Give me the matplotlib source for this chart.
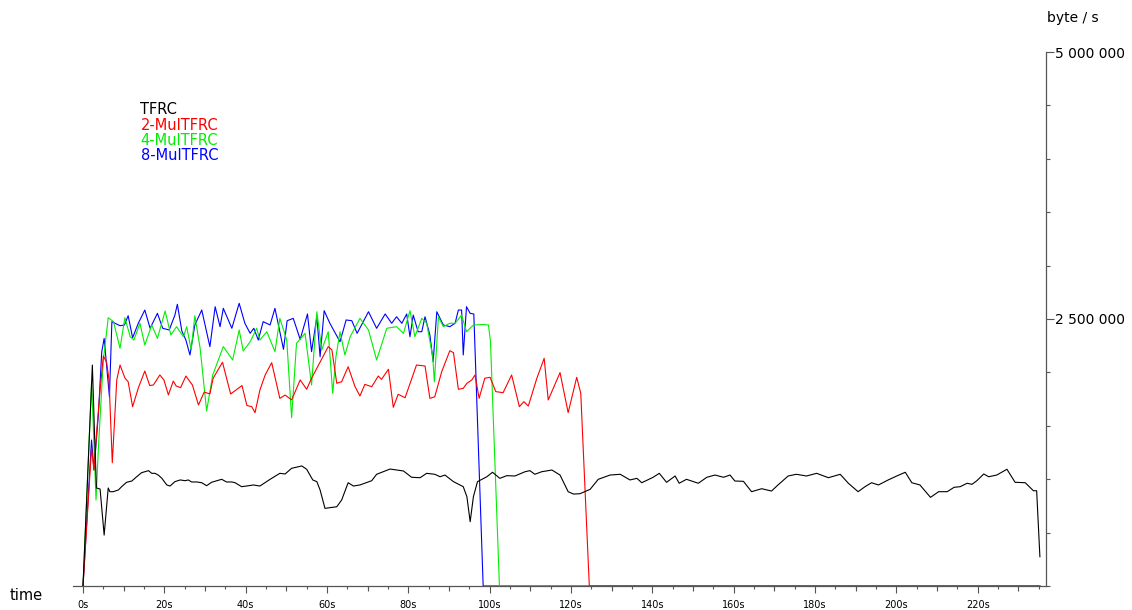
import matplotlib
matplotlib.use("Agg")
import matplotlib.pyplot as plt
from matplotlib.ticker import FixedLocator, FuncFormatter

# ======================================
# THROUGHPUT TRACES (time in s, rate in kbyte/s)
# ======================================

tfrc_t = [0, 2.3, 2.8, 3.3, 4.2, 5.2, 6.2, 6.6, 7.4, 8.7, 9.5, 10.7, 12.0, 13.2, 14.4,
          16.1, 16.9, 17.7, 18.5, 19.4, 20.6, 21.4, 22.6, 23.9, 25.1, 25.9, 26.7, 28.0,
          29.2, 30.4, 31.6, 32.9, 34.1, 35.3, 36.6, 37.4, 39.0, 40.2, 41.9, 43.5, 46.0,
          48.4, 49.7, 51.3, 53.8, 55.0, 56.5, 57.5, 58.3, 59.5, 62.4, 63.6, 65.2, 66.5,
          68.1, 71.0, 72.2, 75.5, 78.8, 80.8, 82.9, 84.5, 86.5, 87.8, 89.0, 91.1, 93.5,
          94.4, 95.2, 96.0, 97.0, 99.3, 100.7, 102.5, 104.2, 106.2, 108.7, 109.9, 111.1,
          112.8, 115.3, 117.3, 119.3, 120.6, 122.2, 124.7, 126.7, 129.6, 132.1, 134.5,
          136.2, 137.4, 140.2, 141.7, 143.5, 145.6, 146.6, 148.4, 151.3, 153.4, 155.4,
          157.5, 159.1, 160.3, 162.4, 164.4, 166.9, 169.3, 170.9, 173.4, 175.4, 177.9,
          180.4, 183.3, 186.2, 188.2, 190.6, 192.3, 193.9, 195.6, 198.0, 200.1, 202.2,
          203.8, 205.8, 208.4, 210.4, 212.5, 214.2, 215.7, 217.4, 218.6, 219.8, 221.5,
          222.7, 224.7, 227.2, 229.2, 231.7, 233.7, 234.5, 235.3]
tfrc_k = [0, 2069, 1461, 918, 908, 477, 918, 883, 883, 899, 930, 971, 983, 1023, 1061,
          1080, 1055, 1055, 1039, 1008, 946, 936, 977, 993, 986, 993, 974, 974,
          967, 939, 971, 986, 999, 974, 974, 967, 930, 936, 946, 936, 999,
          1055, 1049, 1102, 1124, 1093, 993, 977, 899, 727, 742, 805, 967, 936,
          946, 986, 1046, 1095, 1077, 1018, 1014, 1055, 1046, 1023, 1039, 977, 930,
          836, 602, 836, 977, 1023, 1065, 1008, 1033, 1030, 1070, 1080, 1046,
          1070, 1086, 1039, 883, 861, 864, 905, 999, 1039, 1046, 993,
          1008, 967, 1018, 1055, 971, 1030, 962, 999, 962, 1018, 1039,
          1018, 1039, 983, 980, 883, 911, 889, 946, 1030, 1046, 1030,
          1055, 1014, 1046, 962, 883, 930, 967, 946, 993, 1030, 1065,
          967, 946, 830, 883, 883, 924, 930, 962, 952, 986, 1049,
          1023, 1039, 1093, 971, 967, 892, 892, 274]

mul2_t = [0, 2.1, 2.7, 3.4, 4.2, 5.0, 5.8, 6.4, 7.2, 8.3, 9.1, 10.3, 11.1, 12.2, 13.6,
          15.2, 16.4, 17.3, 18.9, 19.9, 21.0, 22.2, 22.9, 24.0, 25.3, 26.9, 28.4, 29.8,
          31.2, 32.0, 34.3, 36.3, 39.1, 40.3, 41.5, 42.3, 43.5, 44.8, 46.4, 48.4, 49.7,
          51.3, 53.4, 55.0, 56.2, 60.3, 61.2, 62.4, 63.6, 65.2, 66.9, 68.1, 69.3, 71.0,
          72.6, 73.4, 75.1, 76.3, 77.5, 79.2, 82.0, 84.1, 85.3, 86.5, 88.2, 90.2, 91.1,
          92.3, 93.5, 94.4, 95.6, 96.4, 97.4, 98.8, 100.1, 101.5, 103.3, 105.4, 107.3,
          108.4, 109.5, 111.6, 113.4, 114.4, 117.3, 119.3, 121.4, 122.4, 124.5, 235.3]
mul2_k = [0, 1292, 1086, 1460, 1835, 2153, 2097, 1929, 1154, 1929, 2069, 1948, 1913, 1679, 1854,
          2013, 1877, 1882, 1976, 1929, 1789, 1919, 1873, 1857, 1966, 1882, 1695, 1816,
          1798, 1945, 2095, 1798, 1877, 1690, 1679, 1623, 1835, 1976, 2091, 1757, 1788,
          1742, 1929, 1842, 1945, 2241, 2210, 1898, 1913, 2053, 1866, 1779, 1888, 1866,
          1966, 1935, 2029, 1673, 1795, 1763, 2069, 2060, 1757, 1772, 2006, 2203, 2185,
          1842, 1851, 1898, 1929, 1976, 1757, 1945, 1954, 1820, 1810, 1976, 1679,
          1726, 1685, 1945, 2132, 1742, 1998, 1623, 1954, 1804, 0, 0]

mul4_t = [0, 2.1, 2.5, 3.2, 3.8, 5.0, 6.2, 7.5, 9.1, 10.3, 11.6, 12.5, 14.0, 15.2, 16.9,
          18.3, 20.2, 21.6, 23.0, 24.7, 25.5, 26.6, 27.5, 28.8, 30.4, 31.9, 34.5, 36.8,
          38.4, 39.4, 41.1, 42.7, 43.5, 45.2, 47.2, 48.4, 50.1, 51.3, 52.5, 54.6, 56.2,
          57.5, 58.7, 60.3, 61.4, 62.2, 63.2, 64.4, 65.7, 68.1, 70.2, 72.2, 74.7, 77.1,
          78.8, 80.4, 81.6, 83.3, 84.5, 86.0, 86.4, 87.4, 88.6, 90.2, 91.5, 93.1, 94.3,
          96.0, 98.4, 99.7, 100.2, 102.4, 235.3]
mul4_k = [0, 1898, 1526, 805, 1304, 2116, 2512, 2475, 2226, 2512, 2334, 2303, 2460, 2256, 2444,
          2319, 2575, 2350, 2428, 2334, 2428, 2210, 2531, 2226, 1639, 1976, 2241, 2116,
          2397, 2200, 2287, 2413, 2303, 2381, 2194, 2506, 2303, 1576, 2272, 2366, 1882,
          2568, 2210, 2381, 1804, 2147, 2381, 2163, 2334, 2506, 2397, 2116, 2413, 2428,
          2366, 2578, 2334, 2506, 2460, 2147, 1913, 2521, 2428, 2460, 2460, 2537, 2381,
          2444, 2448, 2444, 2287, 0, 0]

mul8_t = [0, 2.1, 2.7, 3.8, 4.6, 5.2, 5.9, 6.5, 7.1, 9.1, 10.2, 11.1, 12.2, 13.6, 15.2,
          16.5, 18.3, 19.6, 21.2, 22.6, 23.2, 24.3, 25.3, 26.3, 27.5, 29.2, 31.2, 32.5,
          33.7, 34.5, 36.6, 38.4, 39.8, 41.1, 42.0, 43.1, 44.3, 46.0, 47.2, 49.3, 50.2,
          51.7, 53.4, 55.2, 56.2, 57.5, 58.3, 59.3, 60.7, 63.2, 64.7, 66.1, 67.4, 70.2,
          72.2, 74.3, 75.9, 77.1, 78.4, 79.6, 80.4, 81.2, 82.4, 83.3, 84.1, 85.3, 86.1,
          87.0, 88.6, 90.2, 91.5, 92.3, 93.1, 93.5, 94.3, 95.2, 96.1, 98.4, 235.3]
mul8_k = [0, 1367, 1086, 1617, 2191, 2319, 2022, 1772, 2475, 2437, 2444, 2531, 2325, 2460, 2584,
          2413, 2553, 2413, 2397, 2537, 2638, 2388, 2303, 2163, 2444, 2584, 2241, 2615,
          2428, 2600, 2413, 2647, 2460, 2366, 2413, 2303, 2475, 2444, 2600, 2216, 2484,
          2506, 2310, 2547, 2194, 2521, 2147, 2578, 2460, 2287, 2491, 2484, 2366, 2568,
          2413, 2547, 2460, 2521, 2460, 2547, 2334, 2537, 2381, 2381, 2521, 2350, 2100,
          2568, 2444, 2428, 2460, 2584, 2584, 2163, 2615, 2553, 2547, 0, 0]

series = [
    ("TFRC", tfrc_t, tfrc_k, "#000000", 5),
    ("2-MulTFRC", mul2_t, mul2_k, "#ff0000", 4),
    ("4-MulTFRC", mul4_t, mul4_k, "#00ee00", 3),
    ("8-MulTFRC", mul8_t, mul8_k, "#0000ff", 2),
]

AXIS_COLOR = "#555555"

# ======================================
# FIGURE
# ======================================

W, H = 1132, 610
fig = plt.figure(figsize=(W / 100, H / 100), dpi=100)
ax = fig.add_axes([73 / W, 24 / H, (1046 - 73) / W, (586 - 52) / H])

for name, t, k, color, z in series:
    ax.plot(t, [v * 1000 for v in k], color=color, lw=0.8, zorder=z)

ax.set_xlim(-2.46, 236.8)
ax.set_ylim(0, 5_000_000)

for side in ("left", "top"):
    ax.spines[side].set_visible(False)
for side in ("bottom", "right"):
    ax.spines[side].set_color(AXIS_COLOR)
    ax.spines[side].set_linewidth(0.9)

# x axis: labels every 20 s, ticks every 5 s
ax.xaxis.set_major_locator(FixedLocator(list(range(0, 240, 20))))
ax.xaxis.set_minor_locator(FixedLocator([m for m in range(0, 240, 5) if m % 20]))
ax.xaxis.set_major_formatter(FuncFormatter(lambda x, p: f"{int(x)}s"))
ax.tick_params(axis="x", which="major", direction="out", length=5, width=0.8,
               color=AXIS_COLOR, labelsize=7, pad=5)
ax.tick_params(axis="x", which="minor", direction="out", length=2, width=0.8,
               color=AXIS_COLOR)

# medium ticks on the 10 s marks
sec = ax.secondary_xaxis("bottom")
sec.set_xticks([m for m in range(10, 240, 20)])
sec.tick_params(direction="out", length=3.5, width=0.8, color=AXIS_COLOR,
                labelbottom=False)
sec.spines["bottom"].set_visible(False)

# y axis on the right
ax.yaxis.tick_right()
ax.yaxis.set_major_locator(FixedLocator([2_500_000, 5_000_000]))
ax.yaxis.set_minor_locator(FixedLocator([m * 500_000 for m in range(0, 10) if m != 5]))
ax.yaxis.set_major_formatter(FuncFormatter(lambda v, p: f"{v:,.0f}".replace(",", " ")))
ax.tick_params(axis="y", which="major", direction="out", length=6, width=0.8,
               color=AXIS_COLOR, labelsize=10, pad=0.5)
ax.tick_params(axis="y", which="minor", direction="out", length=3, width=0.8,
               color=AXIS_COLOR)

fig.text(10 / W, 1 - 595 / H, "time", fontsize=10.5, va="center", ha="left")
fig.text(1047 / W, 1 - 18 / H, "byte / s", fontsize=10, va="center", ha="left")

for i, (name, t, k, color, z) in enumerate(series):
    fig.text(140.5 / W, 1 - (110 + 15.2 * i) / H, name, color=color,
             fontsize=10.5, va="center", ha="left")

fig.savefig("out.png", dpi=100, facecolor="white")
